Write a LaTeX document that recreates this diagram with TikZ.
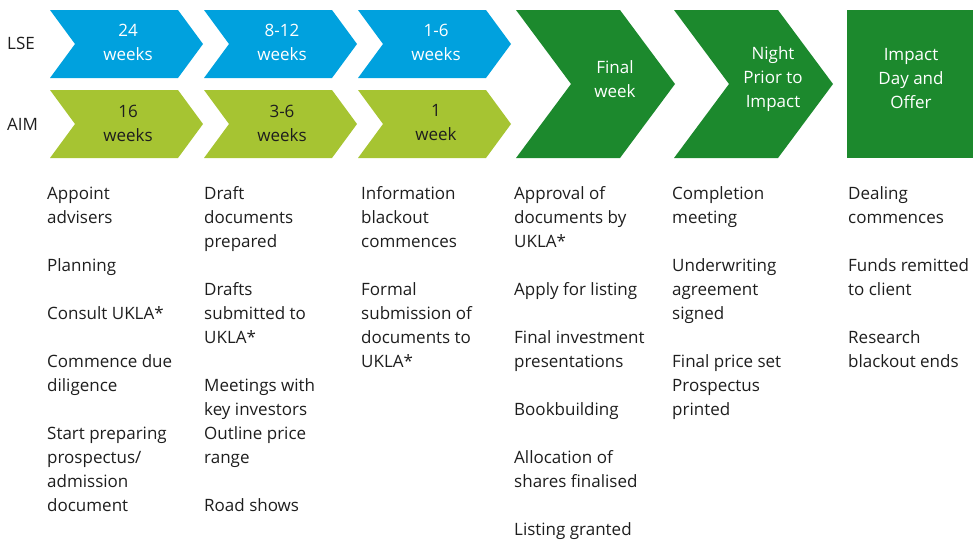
\documentclass[tikz,border=0pt]{standalone}
\usepackage{fontspec}
\setmainfont{Open Sans}
\definecolor{lseblue}{RGB}{0,161,222}
\definecolor{aimlime}{RGB}{166,196,50}
\definecolor{dealgreen}{RGB}{28,137,45}
\definecolor{bodytext}{RGB}{30,30,30}
\begin{document}
\begin{tikzpicture}[x=1pt,y=-1pt,
  weeks/.style={align=center,inner sep=0pt,font=\fontsize{17}{24}\selectfont},
  stepnotes/.style={anchor=base west,align=left,inner sep=0pt,text=bodytext,font=\fontsize{17}{24}\selectfont}]
\useasboundingbox (0,0) rectangle (973,539);

% The market labels
\node[weeks,text=bodytext,anchor=west] (lse) at (7,43) {LSE};
\node[weeks,text=bodytext,anchor=west] (aim) at (7,124) {AIM};

% The small chevrons, LSE on top and AIM below
\foreach \x/\lsetxt/\aimtxt [count=\i] in {50/{24\\weeks}/{16\\weeks},
                                            204/{8-12\\weeks}/{3-6\\weeks},
                                            358/{1-6\\weeks}/{1\\week}}
{
	\fill[lseblue] (\x,10) -- (\x+128,10) -- (\x+153,44) -- (\x+128,78) -- (\x,78) -- (\x+25,44) -- cycle;
	\fill[aimlime] (\x,90) -- (\x+128,90) -- (\x+153,124) -- (\x+128,158) -- (\x,158) -- (\x+25,124) -- cycle;
	\node[weeks,text=white] (lse\i) at (\x+78,42) {\lsetxt};
	\node[weeks,text=bodytext] (aim\i) at (\x+78,123) {\aimtxt};
}

% The big chevrons for the last days
\foreach \x/\daytxt [count=\i] in {516/{Final\\week}, 674/{Night\\Prior to\\Impact}}
{
	\fill[dealgreen] (\x,10) -- (\x+104,10) -- (\x+159,84) -- (\x+104,158) -- (\x,158) -- (\x+55,84) -- cycle;
	\node[weeks,text=white] (day\i) at (\x+99,79) {\daytxt};
}
\fill[dealgreen] (847,10) rectangle (973,158);
\node[weeks,text=white] (day3) at (911,79) {Impact\\Day and\\Offer};

% What happens in each stage (placed by the baseline of the last line)
\node[stepnotes] (notes1) at (47,511) {Appoint\\advisers\\[24pt]Planning\\[24pt]Consult UKLA*\\[24pt]Commence due\\diligence\\[24pt]Start preparing\\prospectus/\\admission\\document};
\node[stepnotes] (notes2) at (204,511) {Draft\\documents\\prepared\\[24pt]Drafts\\submitted to\\UKLA*\\[24pt]Meetings with\\key investors\\Outline price\\range\\[24pt]Road shows};
\node[stepnotes] (notes3) at (361,367) {Information\\blackout\\commences\\[24pt]Formal\\submission of\\documents to\\UKLA*};
\node[stepnotes] (notes4) at (514,535) {Approval of\\documents by\\UKLA*\\[24pt]Apply for listing\\[24pt]Final investment\\presentations\\[24pt]Bookbuilding\\[24pt]Allocation of\\shares finalised\\[24pt]Listing granted};
\node[stepnotes] (notes5) at (672,415) {Completion\\meeting\\[24pt]Underwriting\\agreement\\signed\\[24pt]Final price set\\Prospectus\\printed};
\node[stepnotes] (notes6) at (848,367) {Dealing\\commences\\[24pt]Funds remitted\\to client\\[24pt]Research\\blackout ends};

\end{tikzpicture}
\end{document}
